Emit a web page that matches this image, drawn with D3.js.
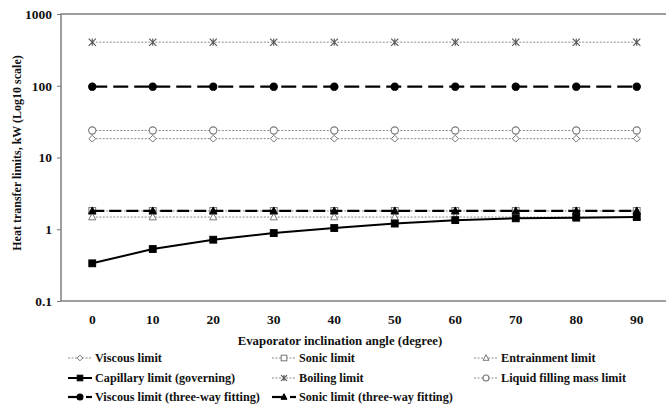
<!DOCTYPE html>
<html>
<head>
<meta charset="utf-8">
<script src="https://cdn.jsdelivr.net/npm/d3@7"></script>
<style>
  html, body { margin: 0; padding: 0; background: #fff; }
  svg text { font-family: "Liberation Serif", "Times New Roman", serif; font-weight: bold; fill: #111; }
</style>
</head>
<body>
<svg id="chart" width="666" height="408"></svg>
<script>
// Evaporator inclination angles (degree)
const angles = [0, 10, 20, 30, 40, 50, 60, 70, 80, 90];

// Heat transfer limits, kW
const viscousLimit      = [18.3, 18.3, 18.3, 18.3, 18.3, 18.3, 18.3, 18.3, 18.3, 18.3];
const sonicLimit        = [1.8, 1.8, 1.8, 1.8, 1.8, 1.8, 1.8, 1.8, 1.8, 1.8];
const entrainmentLimit  = [1.48, 1.48, 1.48, 1.48, 1.48, 1.48, 1.48, 1.48, 1.48, 1.48];
const capillaryLimit    = [0.335, 0.53, 0.715, 0.885, 1.04, 1.2, 1.34, 1.42, 1.45, 1.48];
const boilingLimit      = [405, 405, 405, 405, 405, 405, 405, 405, 405, 405];
const liquidFillLimit   = [23.8, 23.8, 23.8, 23.8, 23.8, 23.8, 23.8, 23.8, 23.8, 23.8];
const viscousThreeWay   = [97, 97, 97, 97, 97, 97, 97, 97, 97, 97];
const sonicThreeWay     = [1.8, 1.8, 1.8, 1.8, 1.8, 1.8, 1.8, 1.8, 1.8, 1.8];

const yTicks = [0.1, 1, 10, 100, 1000];

const seriesNames = [
  "Viscous limit", "Sonic  limit", "Entrainment limit",
  "Capillary limit (governing)", "Boiling limit", "Liquid filling mass limit",
  "Viscous limit (three-way fitting)", "Sonic  limit (three-way fitting)"
];

const GRAY = "#8a8a8a";
const series = [
  { name: seriesNames[0], values: viscousLimit,     marker: "diamond",  stroke: GRAY, dash: "2,1.5", width: 1, fill: "#fff", mstroke: "#777" },
  { name: seriesNames[1], values: sonicLimit,       marker: "square",   stroke: GRAY, dash: "2,1.5", width: 1, fill: "#fff", mstroke: "#777" },
  { name: seriesNames[2], values: entrainmentLimit, marker: "triangle", stroke: GRAY, dash: "2,1.5", width: 1, fill: "#fff", mstroke: "#777" },
  { name: seriesNames[3], values: capillaryLimit,   marker: "square",   stroke: "#000", dash: null,  width: 2, fill: "#000", mstroke: "#000" },
  { name: seriesNames[4], values: boilingLimit,     marker: "star",     stroke: GRAY, dash: "2,1.5", width: 1, fill: "none", mstroke: "#555" },
  { name: seriesNames[5], values: liquidFillLimit,  marker: "circle",   stroke: GRAY, dash: "2,1.5", width: 1, fill: "#fff", mstroke: "#777" },
  { name: seriesNames[6], values: viscousThreeWay,  marker: "circle",   stroke: "#000", dash: "15,6", width: 2.2, fill: "#000", mstroke: "#000" },
  { name: seriesNames[7], values: sonicThreeWay,    marker: "triangle", stroke: "#000", dash: "12,5", width: 2.2, fill: "#000", mstroke: "#000" }
];

const svg = d3.select("#chart");
const plot = { left: 61, right: 667, top: 14, bottom: 301 };

const x = d3.scaleBand().domain(angles).range([plot.left + 1, plot.right]).paddingInner(0).paddingOuter(0);
const xc = d => x(d) + x.bandwidth() / 2;
const y = d3.scaleLog().domain([0.1, 1000]).range([plot.bottom, plot.top]);

// frame
svg.append("rect")
  .attr("x", plot.left).attr("y", plot.top)
  .attr("width", plot.right - plot.left).attr("height", plot.bottom - plot.top)
  .attr("fill", "none").attr("stroke", "#777").attr("stroke-width", 1.4);

// y axis
const yAxis = d3.axisLeft(y).tickValues(yTicks).tickSize(4).tickPadding(5)
  .tickFormat(d => d3.format("~g")(d));
const gy = svg.append("g").attr("transform", `translate(${plot.left},0)`).call(yAxis);
gy.select(".domain").remove();
gy.selectAll(".tick line").attr("stroke", "#777");
gy.selectAll(".tick text").attr("font-size", 13.5).attr("font-family", "Liberation Serif").attr("font-weight", "bold").attr("fill", "#111");

// x axis labels
const xAxis = d3.axisBottom(x).tickSize(0).tickPadding(13);
const gx = svg.append("g").attr("transform", `translate(0,${plot.bottom})`).call(xAxis);
gx.select(".domain").remove();
gx.selectAll(".tick text").attr("font-size", 13.5).attr("font-family", "Liberation Serif").attr("font-weight", "bold").attr("fill", "#111");

// axis titles
svg.append("text").attr("x", 340).attr("y", 345).attr("text-anchor", "middle")
  .attr("font-size", 12.8).text("Evaporator inclination angle (degree)");
svg.append("text").attr("transform", "translate(21,153) rotate(-90)").attr("text-anchor", "middle")
  .attr("font-size", 12).text("Heat transfer limits, kW (Log10 scale)");

// marker drawing
function drawMarker(g, type, cx, cy, s, size) {
  const fill = s.fill, st = s.mstroke;
  if (type === "diamond") {
    const r = size * 0.85;
    g.append("path").attr("d", `M${cx},${cy - r}L${cx + r},${cy}L${cx},${cy + r}L${cx - r},${cy}Z`)
      .attr("fill", fill).attr("stroke", st).attr("stroke-width", 1);
  } else if (type === "square") {
    const r = size * 0.85;
    g.append("rect").attr("x", cx - r).attr("y", cy - r).attr("width", 2 * r).attr("height", 2 * r)
      .attr("fill", fill).attr("stroke", st).attr("stroke-width", 1);
  } else if (type === "triangle") {
    const r = size;
    g.append("path").attr("d", `M${cx},${cy - r}L${cx + r * 0.9},${cy + r * 0.7}L${cx - r * 0.9},${cy + r * 0.7}Z`)
      .attr("fill", fill).attr("stroke", st).attr("stroke-width", 1);
  } else if (type === "circle") {
    g.append("circle").attr("cx", cx).attr("cy", cy).attr("r", size * 0.9)
      .attr("fill", fill).attr("stroke", st).attr("stroke-width", 1.1);
  } else if (type === "star") {
    const r = size * 0.9;
    const p = `M${cx - r},${cy - r}L${cx + r},${cy + r}M${cx - r},${cy + r}L${cx + r},${cy - r}M${cx},${cy - r}L${cx},${cy + r}`;
    g.append("path").attr("d", p).attr("stroke", st).attr("stroke-width", 1.1).attr("fill", "none");
  }
}

const line = d3.line().x((d, i) => xc(angles[i])).y(d => y(d));

// series lines and markers
series.forEach(s => {
  const g = svg.append("g");
  g.append("path").datum(s.values).attr("d", line)
    .attr("fill", "none").attr("stroke", s.stroke).attr("stroke-width", s.width)
    .attr("stroke-dasharray", s.dash);
  s.values.forEach((v, i) => drawMarker(g, s.marker, xc(angles[i]), y(v), s, 4));
});

// legend
const legendCols = [68, 272, 474];
const legendRows = [358, 378, 397];
series.forEach((s, i) => {
  const col = i % 3, row = Math.floor(i / 3);
  const lx = legendCols[col], ly = legendRows[row];
  const g = svg.append("g");
  if (s.dash && s.width < 2) {
    g.append("line").attr("x1", lx).attr("x2", lx + 24).attr("y1", ly).attr("y2", ly)
      .attr("stroke", s.stroke).attr("stroke-width", 1).attr("stroke-dasharray", "2,1.5");
  } else if (s.dash) {
    g.append("line").attr("x1", lx).attr("x2", lx + 14).attr("y1", ly).attr("y2", ly)
      .attr("stroke", "#000").attr("stroke-width", 2.2);
    g.append("line").attr("x1", lx + 18).attr("x2", lx + 24).attr("y1", ly).attr("y2", ly)
      .attr("stroke", "#000").attr("stroke-width", 2.2);
  } else {
    g.append("line").attr("x1", lx).attr("x2", lx + 24).attr("y1", ly).attr("y2", ly)
      .attr("stroke", "#000").attr("stroke-width", 2);
  }
  drawMarker(g, s.marker, lx + 12, ly, s, 3.3);
  g.append("text").attr("x", lx + 27).attr("y", ly + 4).attr("font-size", 12.2).text(s.name);
});
</script>
</body>
</html>
